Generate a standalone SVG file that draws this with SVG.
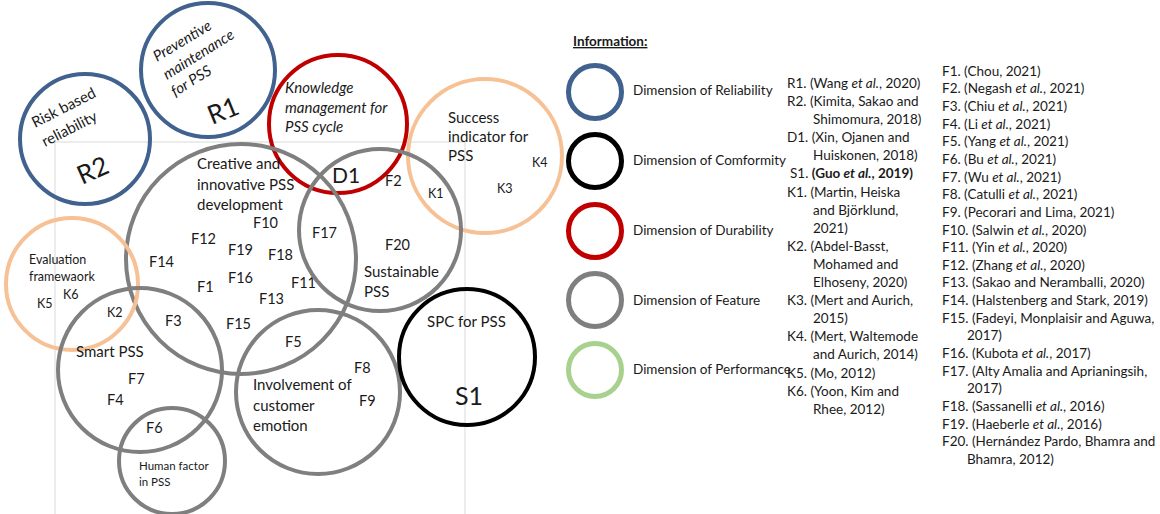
<svg xmlns="http://www.w3.org/2000/svg" width="1160" height="514" viewBox="0 0 1160 514">
<style>
text{font-family:Lato,"Liberation Sans",sans-serif;fill:#1a1a1a}
.c{fill:none;stroke-width:4}
.blue{stroke:#41618E}.red{stroke:#C00000}.org{stroke:#F7C196}.gray{stroke:#7F7F7F}.blk{stroke:#000}.grn{stroke:#A9D18E}
.lg{fill:none;stroke-width:5}
.lab{font-size:15px}
.f{font-size:14.5px}
.k{font-size:12.5px}
.ref{font-size:13.5px}
.leg{font-size:13.5px}
.it{font-style:italic}
.big{font-size:26px}
</style>
<g id="grid" stroke="#D9D9D9" stroke-width="1" fill="none">
<line x1="55" y1="142" x2="465" y2="142"/>
<line x1="55" y1="142" x2="55" y2="514"/>
<line x1="465" y1="142" x2="465" y2="514"/>
</g>
<g id="connectors"></g>
<g id="R2">
<circle class="c blue" cx="85" cy="139" r="65"/>
<text class="lab" transform="translate(35,128) rotate(-27)">Risk based</text>
<text class="lab" transform="translate(45,147) rotate(-27)">reliability</text>
<text class="big" transform="translate(82,185) rotate(-24)">R2</text>
</g>
<g id="R1">
<circle class="c blue" cx="208" cy="70" r="67"/>
<text class="lab it" transform="translate(157,62) rotate(-31)">Preventive</text>
<text class="lab it" transform="translate(167,80) rotate(-32)">maintenance</text>
<text class="lab it" transform="translate(175,97) rotate(-32)">for PSS</text>
<text class="big" transform="translate(212,125) rotate(-22)">R1</text>
</g>
<g id="D1">
<circle class="c red" cx="338" cy="124" r="69"/>
<text class="lab it" x="285" y="93">Knowledge</text>
<text class="lab it" x="285" y="113">management for</text>
<text class="lab it" x="285" y="132">PSS cycle</text>
</g>
<g id="K-success">
<circle class="c org" cx="485" cy="156" r="77"/>
<text class="lab" x="448" y="123">Success</text>
<text class="lab" x="448" y="142">indicator for</text>
<text class="lab" x="448" y="161">PSS</text>
<text class="k" x="532" y="167">K4</text>
<text class="k" x="497" y="193">K3</text>
<text class="k" x="428" y="198">K1</text>
</g>
<g id="F-creative">
<circle class="c gray" cx="241" cy="259" r="115"/>
<text class="lab" x="197" y="169">Creative and</text>
<text class="lab" x="197" y="190">innovative PSS</text>
<text class="lab" x="197" y="210">development</text>
<text class="f" x="253" y="228">F10</text>
<text class="f" x="191" y="244">F12</text>
<text class="f" x="228" y="255">F19</text>
<text class="f" x="268" y="260">F18</text>
<text class="f" x="149" y="267">F14</text>
<text class="f" x="228" y="283">F16</text>
<text class="f" x="197" y="292">F1</text>
<text class="f" x="291" y="288">F11</text>
<text class="f" x="259" y="304">F13</text>
<text class="f" x="165" y="326">F3</text>
<text class="f" x="226" y="329">F15</text>
</g>
<g id="F-sustainable">
<circle class="c gray" cx="380" cy="230" r="81"/>
<text style="font-size:21px" x="332" y="183">D1</text>
<text class="f" x="385" y="186">F2</text>
<text class="f" x="312" y="238">F17</text>
<text class="f" x="385" y="250">F20</text>
<text class="lab" x="364" y="277">Sustainable</text>
<text class="lab" x="364" y="297">PSS</text>
</g>
<g id="K-evaluation">
<circle class="c org" cx="72" cy="284" r="66"/>
<text class="k" x="29" y="264">Evaluation</text>
<text class="k" x="29" y="281">framewaork</text>
<text class="k" x="63" y="299">K6</text>
<text class="k" x="37" y="308">K5</text>
<text class="k" x="107" y="317">K2</text>
</g>
<g id="F-smart">
<circle class="c gray" cx="140" cy="370" r="82"/>
<text class="lab" x="76" y="357">Smart PSS</text>
<text class="f" x="128" y="384">F7</text>
<text class="f" x="107" y="405">F4</text>
<text class="f" x="146" y="433">F6</text>
</g>
<g id="F-human">
<circle class="c gray" cx="172" cy="461" r="53"/>
<text class="k" style="font-size:11.5px" x="139" y="470">Human factor</text>
<text class="k" style="font-size:11.5px" x="139" y="486">in PSS</text>
</g>
<g id="F-involvement">
<circle class="c gray" cx="318" cy="392" r="82"/>
<text class="f" x="285" y="347">F5</text>
<text class="f" x="354" y="373">F8</text>
<text class="f" x="359" y="406">F9</text>
<text class="lab" x="253" y="390">Involvement of</text>
<text class="lab" x="253" y="411">customer</text>
<text class="lab" x="253" y="431">emotion</text>
</g>
<g id="S1">
<circle class="c blk" cx="467" cy="357" r="68"/>
<text class="lab" x="427" y="327">SPC for PSS</text>
<text style="font-size:25px" x="455" y="405">S1</text>
</g>
<g id="legend">
<text class="leg" x="573" y="46" font-weight="bold" text-decoration="underline">Information:</text>
<circle class="lg blue" cx="595" cy="92" r="26.5"/>
<text class="leg" x="633" y="95">Dimension of Reliability</text>
<circle class="lg blk" cx="595" cy="161" r="26.5"/>
<text class="leg" x="633" y="165">Dimension of Comformity</text>
<circle class="lg red" cx="595" cy="231" r="26.5"/>
<text class="leg" x="633" y="235">Dimension of Durability</text>
<circle class="lg gray" cx="595" cy="300" r="26.5"/>
<text class="leg" x="633" y="305">Dimension of Feature</text>
<circle class="lg grn" cx="595" cy="370" r="26.5"/>
<text class="leg" x="633" y="374">Dimension of Performance</text>
</g>
<g id="refs1">
<text class="ref" x="787" y="88">R1. (Wang <tspan class="it">et al.</tspan>, 2020)</text>
<text class="ref" x="787" y="106">R2. (Kimita, Sakao and</text>
<text class="ref" x="813" y="124">Shimomura, 2018)</text>
<text class="ref" x="787" y="142">D1. (Xin, Ojanen and</text>
<text class="ref" x="813" y="160">Huiskonen, 2018)</text>
<text class="ref" x="790" y="178">S1. <tspan font-weight="bold">(Guo <tspan class="it">et al.</tspan>, 2019)</tspan></text>
<text class="ref" x="787" y="197">K1. (Martin, Heiska</text>
<text class="ref" x="813" y="215">and Björklund,</text>
<text class="ref" x="813" y="233">2021)</text>
<text class="ref" x="787" y="251">K2. (Abdel-Basst,</text>
<text class="ref" x="813" y="269">Mohamed and</text>
<text class="ref" x="813" y="287">Elhoseny, 2020)</text>
<text class="ref" x="787" y="305">K3. (Mert and Aurich,</text>
<text class="ref" x="813" y="323">2015)</text>
<text class="ref" x="787" y="341">K4. (Mert, Waltemode</text>
<text class="ref" x="813" y="359">and Aurich, 2014)</text>
<text class="ref" x="787" y="378">K5. (Mo, 2012)</text>
<text class="ref" x="787" y="396">K6. (Yoon, Kim and</text>
<text class="ref" x="813" y="414">Rhee, 2012)</text>
</g>
<g id="refs2">
<text class="ref" x="942" y="75.7">F1. (Chou, 2021)</text>
<text class="ref" x="942" y="93.3">F2. (Negash <tspan class="it">et al.</tspan>, 2021)</text>
<text class="ref" x="942" y="111">F3. (Chiu <tspan class="it">et al.</tspan>, 2021)</text>
<text class="ref" x="942" y="128.6">F4. (Li <tspan class="it">et al.</tspan>, 2021)</text>
<text class="ref" x="942" y="146.3">F5. (Yang <tspan class="it">et al.</tspan>, 2021)</text>
<text class="ref" x="942" y="163.9">F6. (Bu <tspan class="it">et al.</tspan>, 2021)</text>
<text class="ref" x="942" y="181.5">F7. (Wu <tspan class="it">et al.</tspan>, 2021)</text>
<text class="ref" x="942" y="199.2">F8. (Catulli <tspan class="it">et al.</tspan>, 2021)</text>
<text class="ref" x="942" y="216.8">F9. (Pecorari and Lima, 2021)</text>
<text class="ref" x="942" y="234.5">F10. (Salwin <tspan class="it">et al.</tspan>, 2020)</text>
<text class="ref" x="942" y="252.1">F11. (Yin <tspan class="it">et al.</tspan>, 2020)</text>
<text class="ref" x="942" y="269.7">F12. (Zhang <tspan class="it">et al.</tspan>, 2020)</text>
<text class="ref" x="942" y="287.4">F13. (Sakao and Neramballi, 2020)</text>
<text class="ref" x="942" y="305">F14. (Halstenberg and Stark, 2019)</text>
<text class="ref" x="942" y="322.7">F15. (Fadeyi, Monplaisir and Aguwa,</text>
<text class="ref" x="967" y="340.3">2017)</text>
<text class="ref" x="942" y="357.9">F16. (Kubota <tspan class="it">et al.</tspan>, 2017)</text>
<text class="ref" x="942" y="375.6">F17. (Alty Amalia and Aprianingsih,</text>
<text class="ref" x="967" y="393.2">2017)</text>
<text class="ref" x="942" y="410.9">F18. (Sassanelli <tspan class="it">et al.</tspan>, 2016)</text>
<text class="ref" x="942" y="428.5">F19. (Haeberle <tspan class="it">et al.</tspan>, 2016)</text>
<text class="ref" x="942" y="446.1">F20. (Hernández Pardo, Bhamra and</text>
<text class="ref" x="967" y="463.8">Bhamra, 2012)</text>
</g>
</svg>
